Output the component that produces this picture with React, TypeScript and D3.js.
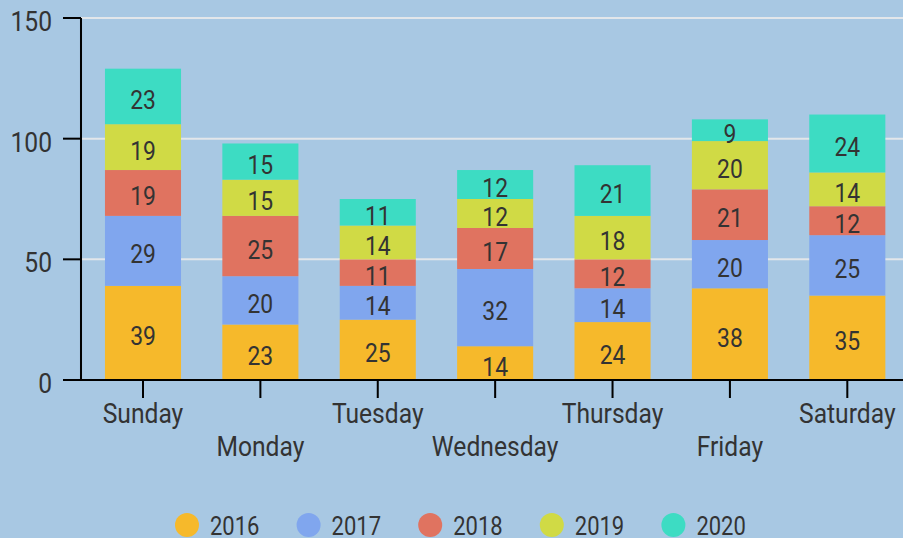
import React from "react";
import * as d3 from "d3";

const days = ["Sunday", "Monday", "Tuesday", "Wednesday", "Thursday", "Friday", "Saturday"];
const years = ["2016", "2017", "2018", "2019", "2020"];
const v2016 = [39, 23, 25, 14, 24, 38, 35];
const v2017 = [29, 20, 14, 32, 14, 20, 25];
const v2018 = [19, 25, 11, 17, 12, 21, 12];
const v2019 = [19, 15, 14, 12, 18, 20, 14];
const v2020 = [23, 15, 11, 12, 21, 9, 24];
const yTicks = [0, 50, 100, 150];
const colors = ["#f6b92b", "#80a6ee", "#e07360", "#d0da45", "#3ddcc3"];

const W = 903;
const H = 538;
// the original looks horizontally squeezed, so draw wider and squash via viewBox
const SX = 0.88;
const VW = W / SX;
const font = "Roboto, 'Noto Sans', sans-serif";
const ink = "#333333";

export default function App() {
  const series = [v2016, v2017, v2018, v2019, v2020];
  const rows = days.map((d, i) => {
    const r: any = { day: d };
    years.forEach((yr, j) => (r[yr] = series[j][i]));
    return r;
  });
  const stacked = d3.stack<any>().keys(years)(rows);

  const x = d3
    .scaleBand<string>()
    .domain(days)
    .range([84.3 / SX, 906 / SX])
    .paddingInner(0.352)
    .paddingOuter(0.176);
  const y = d3.scaleLinear().domain([0, 150]).range([380, 18]);

  const axisX = 81 / SX;

  return (
    <svg
      width={W}
      height={H}
      viewBox={`0 0 ${VW} ${H}`}
      preserveAspectRatio="none"
      style={{ position: "absolute", left: 0, top: 0, display: "block" }}
    >
      <rect x={0} y={0} width={VW} height={H} fill="#a8c8e3" />

      {yTicks.slice(1).map((t) => (
        <line key={"g" + t} x1={axisX} x2={VW} y1={y(t)} y2={y(t)} stroke="#e2e6ea" strokeWidth={2} />
      ))}

      {stacked.map((s, j) =>
        s.map((d, i) => (
          <rect
            key={j + "-" + i}
            x={x(days[i])}
            y={y(d[1])}
            width={x.bandwidth()}
            height={y(d[0]) - y(d[1])}
            fill={colors[j]}
          />
        ))
      )}

      {stacked.map((s, j) =>
        s.map((d, i) => (
          <text
            key={"t" + j + "-" + i}
            x={(x(days[i]) as number) + x.bandwidth() / 2}
            y={(y(d[0]) + y(d[1])) / 2 + 12.5}
            textAnchor="middle"
            fontFamily={font}
            fontSize={26}
            fill={ink}
          >
            {d[1] - d[0]}
          </text>
        ))
      )}

      {/* y axis */}
      <line x1={axisX} x2={axisX} y1={y(150)} y2={y(0)} stroke="#000" strokeWidth={2.3} />
      {yTicks.map((t) => (
        <g key={"y" + t}>
          <line x1={63 / SX} x2={axisX} y1={y(t)} y2={y(t)} stroke="#000" strokeWidth={2} />
          <text x={52 / SX} y={y(t) + 13} textAnchor="end" fontFamily={font} fontSize={28} fill={ink}>
            {t}
          </text>
        </g>
      ))}

      {/* x axis */}
      <line x1={63 / SX} x2={VW} y1={y(0)} y2={y(0)} stroke="#000" strokeWidth={2} />
      {days.map((d, i) => {
        const cx = (x(d) as number) + x.bandwidth() / 2;
        return (
          <g key={"x" + d}>
            <line x1={cx} x2={cx} y1={y(0)} y2={398} stroke="#000" strokeWidth={2.3} />
            <text x={cx} y={i % 2 === 0 ? 423 : 456} textAnchor="middle" fontFamily={font} fontSize={28} fill={ink}>
              {d}
            </text>
          </g>
        );
      })}

      {/* legend */}
      {years.map((yr, j) => {
        const cx = (187 + j * 121.6) / SX;
        return (
          <g key={"l" + yr}>
            <ellipse cx={cx} cy={525} rx={12 / SX} ry={12} fill={colors[j]} />
            <text x={cx + 23 / SX} y={535} fontFamily={font} fontSize={25} fill={ink}>
              {yr}
            </text>
          </g>
        );
      })}
    </svg>
  );
}
